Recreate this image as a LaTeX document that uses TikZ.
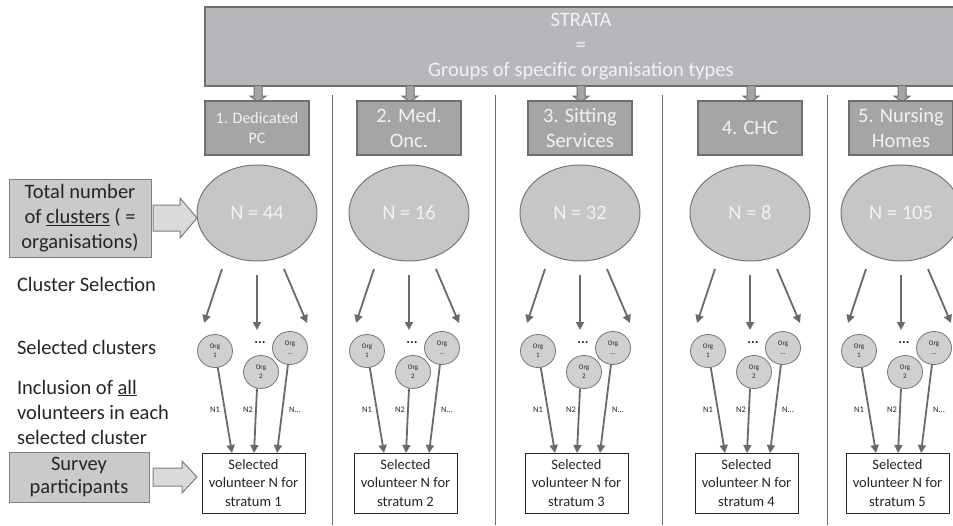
\documentclass[tikz,border=0pt]{standalone}
\usepackage{fontspec}
\setmainfont{Carlito}
\usetikzlibrary{arrows.meta,shapes.geometric}
\definecolor{topfill}{HTML}{B6B7BA}
\definecolor{topdraw}{HTML}{6E6E6E}
\definecolor{strfill}{HTML}{A5A5A5}
\definecolor{strdraw}{HTML}{6E6E6E}
\definecolor{ellfill}{HTML}{C6C6C6}
\definecolor{elldraw}{HTML}{777777}
\definecolor{orgfill}{HTML}{D0D0D0}
\definecolor{labfill}{HTML}{CACACA}
\definecolor{labdraw}{HTML}{7E7E7E}
\definecolor{arrcol}{HTML}{6A6A6A}
\definecolor{txtdark}{HTML}{262626}
\definecolor{txtlight}{HTML}{F2F2F2}
\begin{document}
\begin{tikzpicture}[x=1pt,y=-1pt,
  every node/.style={inner sep=0pt,outer sep=0pt},
  big/.style={font=\fontsize{20.5}{25}\selectfont},
  topbox/.style={draw=topdraw,fill=topfill,line width=1.2pt,text=txtlight,align=center,big},
  stratum/.style={draw=strdraw,fill=strfill,line width=1.2pt,text=txtlight,align=center,minimum width=104pt,minimum height=54pt},
  strbig/.style={font=\fontsize{20.5}{24.5}\selectfont},
  strsmall/.style={font=\fontsize{16}{20}\selectfont},
  bigell/.style={ellipse,draw=elldraw,fill=ellfill,line width=1pt,minimum width=120pt,minimum height=96pt,text=txtlight,big},
  org/.style={ellipse,draw=elldraw,fill=orgfill,line width=0.8pt,minimum width=35pt,minimum height=33pt,text=txtdark,align=center,font=\fontsize{7}{9}\selectfont},
  result/.style={draw=txtdark,fill=white,line width=0.8pt,minimum width=103pt,minimum height=60pt,text=txtdark,align=center,font=\fontsize{14.5}{18.5}\selectfont},
  nlab/.style={text=txtdark,font=\fontsize{8.5}{10}\selectfont},
  leftlab/.style={draw=labdraw,fill=labfill,line width=1pt,text=txtdark,align=center,big},
  lefttxt/.style={text=txtdark,align=left,anchor=west,big},
  arr/.style={draw=arrcol,line width=1.8pt,-{Triangle[length=8pt,width=8pt]}},
  blk/.style={draw=topdraw,fill=strfill,line width=1pt},
  lblk/.style={draw=labdraw,fill=labfill!70!white,line width=1pt},
  sep/.style={draw=arrcol,line width=0.9pt}]
\useasboundingbox (0,0) rectangle (953,525);
\clip (0,0) rectangle (953,525);

% top strata box
\node[topbox,minimum width=752pt,minimum height=79pt] (top) at (581,46.5) {STRATA\\=\\Groups of specific organisation types};

% separators
\foreach \x in {332,495,662,827} \draw[sep] (\x,95) -- (\x,525);

% left labels
\node[leftlab,minimum width=142pt,minimum height=78pt] (L1) at (80,218) {Total number\\of \underline{clusters} ( =\\organisations)};
\draw[lblk] ([xshift=2pt]L1.east) ++(0,-13) -- ++(27,0) -- ++(0,-7) -- (197,218) -- (180,238) -- (180,231) -- (153,231) -- cycle;
\node[lefttxt] (T1) at (17,284) {Cluster Selection};
\node[lefttxt] (T2) at (17,347) {Selected clusters};
\node[lefttxt,font=\fontsize{20.5}{25}\selectfont] (T3) at (17,412) {Inclusion of \underline{all}\\volunteers in each\\selected cluster};
\node[leftlab,minimum width=140pt,minimum height=50pt,font=\fontsize{20.5}{23.5}\selectfont] (L2) at (79,477) {Survey\\participants};
\draw[lblk] (153,468) -- (182,468) -- (182,461) -- (197,477) -- (182,493) -- (182,486) -- (153,486) -- cycle;

% strata columns
\foreach \i/\c/\lab/\fst/\num in {1/257/{1. Dedicated\\PC}/strsmall/44,
  2/409/{2. Med.\\Onc.}/strbig/16,
  3/580/{3. Sitting\\Services}/strbig/32,
  4/750/{4. CHC}/strbig/8,
  5/901/{5. Nursing\\Homes}/strbig/105} {
  \draw[blk] (\c-3,86) -- (\c-3,96) -- (\c-7,96) -- (\c+1,102) -- (\c+9,96) -- (\c+5,96) -- (\c+5,86);
  \node[stratum,\fst] (s\i) at (\c,128) {\lab};
  \node[bigell] (e\i) at (\c,213) {N = \num};
  \node[org] (oa\i) at (\c-42,351) {Org\\1};
  \node[org] (oc\i) at (\c+33,348) {Org\\...};
  \node[org] (ob\i) at (\c+4,372) {Org\\2};
  \node[text=txtdark,font=\fontsize{14}{14}\bfseries] (dots\i) at (\c+3,343) {...};
  \node[result] (b\i) at (\c-3.5,483) {Selected\\volunteer N for\\stratum \i};
  \draw[arr] ([shift={(-35,56)}]e\i.center) -- ([shift={(-53,110)}]e\i.center);
  \draw[arr] ([shift={(0,62)}]e\i.center) -- ([shift={(0,117)}]e\i.center);
  \draw[arr] ([shift={(27,56)}]e\i.center) -- ([shift={(50,110)}]e\i.center);
  \draw[arr] (oa\i) -- ([xshift=-21.5pt]b\i.north);
  \draw[arr] ([xshift=-4pt]ob\i.south) -- ([xshift=0.5pt]b\i.north);
  \draw[arr] (oc\i) -- ([xshift=23.5pt]b\i.north);
  \node[nlab] (n1\i) at (\c-42,410) {N1};
  \node[nlab] (n2\i) at (\c-9,410) {N2};
  \node[nlab] (n3\i) at (\c+38,410) {N...};
}
\end{tikzpicture}
\end{document}
